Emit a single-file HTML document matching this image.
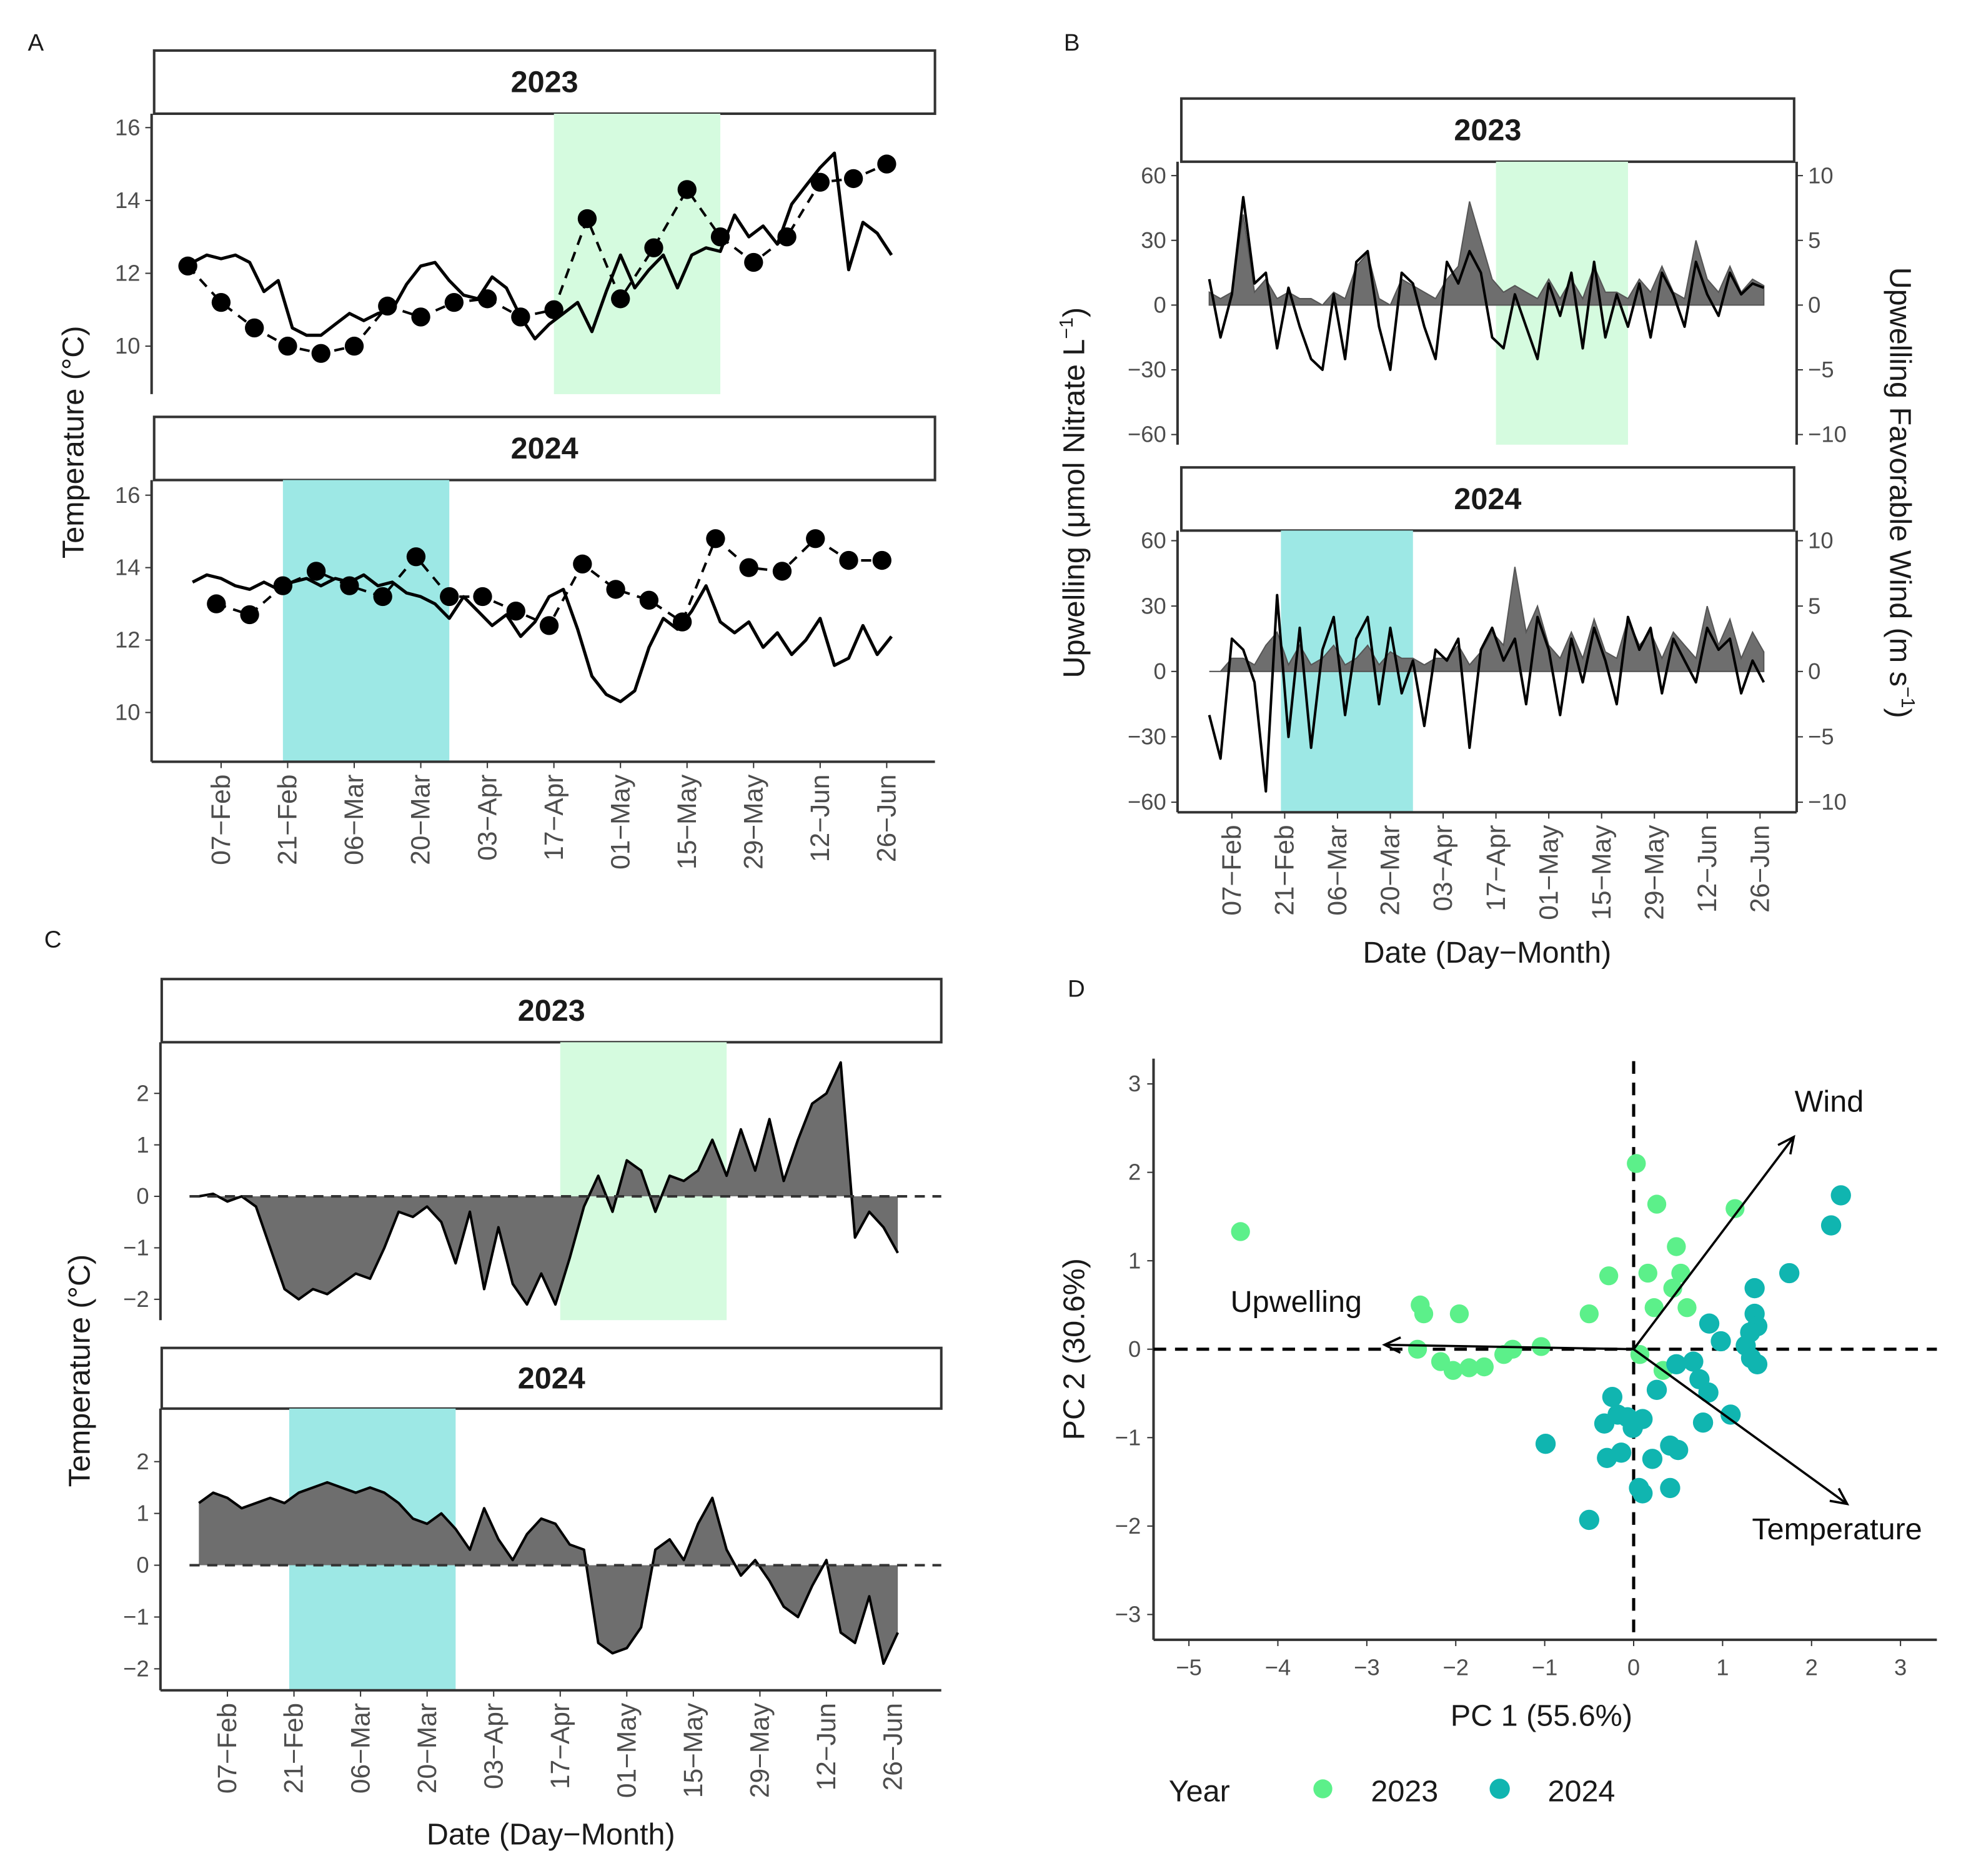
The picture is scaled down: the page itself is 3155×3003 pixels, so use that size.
<!DOCTYPE html>
<html><head><meta charset="utf-8">
<style>
html,body{margin:0;padding:0;background:#fff;}
svg{display:block;font-family:"Liberation Sans",Arial,sans-serif;}
</style></head>
<body>
<svg id="fig" xmlns="http://www.w3.org/2000/svg" width="3155" height="3003" viewBox="0 0 1560 1485" preserveAspectRatio="none"></svg>
<script>
// ---------- Data ----------
const dateTickLabels = ["07\u2212Feb","21\u2212Feb","06\u2212Mar","20\u2212Mar","03\u2212Apr","17\u2212Apr","01\u2212May","15\u2212May","29\u2212May","12\u2212Jun","26\u2212Jun"];
const dateTickDays = [0,14,28,42,56,70,84,98,112,126,140];
const seriesStartDay = -6; // Feb 1
const seriesStepDays = 3;
const tempLine2023 = [12.3,12.5,12.4,12.5,12.3,11.5,11.8,10.5,10.3,10.3,10.6,10.9,10.7,10.9,11.0,11.7,12.2,12.3,11.8,11.4,11.3,11.9,11.6,10.8,10.2,10.6,10.9,11.2,10.4,11.5,12.5,11.6,12.1,12.5,11.6,12.5,12.7,12.6,13.6,13.0,13.3,12.8,13.9,14.4,14.9,15.3,12.1,13.4,13.1,12.5];
const tempLine2024 = [13.6,13.8,13.7,13.5,13.4,13.6,13.4,13.6,13.7,13.5,13.7,13.6,13.8,13.5,13.6,13.3,13.2,13.0,12.6,13.2,12.8,12.4,12.7,12.1,12.5,13.2,13.4,12.3,11.0,10.5,10.3,10.6,11.8,12.6,12.3,12.8,13.5,12.5,12.2,12.5,11.8,12.2,11.6,12.0,12.6,11.3,11.5,12.4,11.6,12.1];
const dotStart2023 = -7, dotStart2024 = -1, dotStep = 7;
const tempDots2023 = [12.2,11.2,10.5,10.0,9.8,10.0,11.1,10.8,11.2,11.3,10.8,11.0,13.5,11.3,12.7,14.3,13.0,12.3,13.0,14.5,14.6,15.0];
const tempDots2024 = [13.0,12.7,13.5,13.9,13.5,13.2,14.3,13.2,13.2,12.8,12.4,14.1,13.4,13.1,12.5,14.8,14.0,13.9,14.8,14.2,14.2];
const upwell2023 = [12,-15,5,50,10,15,-20,8,-10,-25,-30,5,-25,20,25,-10,-30,15,10,-10,-25,20,10,25,15,-15,-20,5,-10,-25,10,-5,15,-20,20,-15,5,-10,10,-15,15,5,-10,20,5,-5,15,5,10,8];
const wind2023 = [1,0.5,1,7,1,2,0.5,1,0.5,0.5,0,1,0.5,3,4,0.5,0,2,1.5,1,0.5,2,3,8,5,2,1,1.5,1,0.5,2,0.5,2,0.5,3,1,1,0.5,2,1,3,1,0.5,5,2,1,3,1,2,1.5];
const upwell2024 = [-20,-40,15,10,-5,-55,35,-30,20,-35,10,25,-20,15,25,-15,20,-10,5,-25,10,5,15,-35,10,20,5,15,-15,25,10,-20,15,-5,20,5,-15,25,10,20,-10,15,5,-5,20,10,15,-10,5,-5];
const wind2024 = [0,0,1,1,0.5,2,3,0.5,2,0.5,1,2,0.5,1,2,0.5,1.5,1,1,0.5,1,1,2,0.5,1.5,3,2,8,3,5,2,1,3,1,4,1.5,1,4,2,3,1,3,2,1,5,2,4,1,3,1.5];
const anom2023 = [0,0.05,-0.1,0,-0.2,-1.0,-1.8,-2.0,-1.8,-1.9,-1.7,-1.5,-1.6,-1.0,-0.3,-0.4,-0.2,-0.5,-1.3,-0.3,-1.8,-0.6,-1.7,-2.1,-1.5,-2.1,-1.2,-0.2,0.4,-0.3,0.7,0.5,-0.3,0.4,0.3,0.5,1.1,0.4,1.3,0.5,1.5,0.3,1.1,1.8,2.0,2.6,-0.8,-0.3,-0.6,-1.1];
const anom2024 = [1.2,1.4,1.3,1.1,1.2,1.3,1.2,1.4,1.5,1.6,1.5,1.4,1.5,1.4,1.2,0.9,0.8,1.0,0.7,0.3,1.1,0.5,0.1,0.6,0.9,0.8,0.4,0.3,-1.5,-1.7,-1.6,-1.2,0.3,0.5,0.1,0.8,1.3,0.3,-0.2,0.1,-0.3,-0.8,-1.0,-0.4,0.1,-1.3,-1.5,-0.6,-1.9,-1.3];
const shade2023 = [70,105];
const shade2024 = [13,48];
const pc1_2023 = [-4.42,-2.40,-2.36,-1.96,-2.43,-2.17,-2.03,-1.85,-1.68,-1.46,-1.36,-1.04,-0.50,-0.28,0.03,0.26,0.16,0.48,0.53,0.44,0.23,0.60,1.14,0.07,0.33];
const pc2_2023 = [1.33,0.50,0.40,0.40,0.00,-0.14,-0.24,-0.21,-0.20,-0.06,0.00,0.03,0.40,0.83,2.10,1.64,0.86,1.16,0.86,0.69,0.47,0.47,1.59,-0.06,-0.24];
const pc1_2024 = [2.33,2.22,1.75,1.36,1.36,1.39,1.31,1.26,1.32,1.39,0.85,0.98,0.67,0.48,0.74,0.84,1.09,0.78,0.26,-0.24,-0.18,-0.07,-0.01,-0.33,0.10,-0.14,0.21,0.41,0.50,0.41,0.10,0.06,-0.30,-0.99,-0.50];
const pc2_2024 = [1.74,1.40,0.86,0.69,0.40,0.26,0.19,0.04,-0.10,-0.17,0.29,0.09,-0.14,-0.17,-0.34,-0.49,-0.74,-0.83,-0.46,-0.54,-0.74,-0.77,-0.89,-0.84,-0.79,-1.17,-1.24,-1.09,-1.14,-1.57,-1.63,-1.57,-1.23,-1.07,-1.93];
const loadingNames = ["Wind","Upwelling","Temperature"];
const loadingPC1 = [1.8,-2.8,2.4];
const loadingPC2 = [2.4,0.05,-1.75];
const pcTicks = [-5,-4,-3,-2,-1,0,1,2,3];
const pcYTicks = [-3,-2,-1,0,1,2,3];

// ---------- helpers ----------
const NS = "http://www.w3.org/2000/svg";
const svg = document.getElementById('fig');
function mk(tag, attrs, parent, text){
  const e = document.createElementNS(NS, tag);
  for (const k in attrs) e.setAttribute(k, attrs[k]);
  if (text !== undefined) e.textContent = text;
  (parent || svg).appendChild(e);
  return e;
}
const TICKC = "#4d4d4d";

function strip(x1,x2,y1,y2,label,name){
  const g = mk('g',{});
  
  
  mk('rect',{x:x1,y:y1,width:x2-x1,height:y2-y1,fill:'#fff',stroke:'#333','stroke-width':2},g);
  const t = mk('text',{x:(x1+x2)/2,y:(y1+y2)/2+8,'text-anchor':'middle','font-size':24,'font-weight':'bold',fill:'#1a1a1a'},g,label);
  
  
}
function yTicks(x, vals, ymap, labels, name, side){
  const g = mk('g',{});
  
  
  vals.forEach((v,i)=>{
    const y = ymap(v);
    if (side==='right'){
      mk('line',{x1:x,x2:x+5,y1:y,y2:y,stroke:'#333','stroke-width':1},g);
      mk('text',{x:x+9,y:y+6,'text-anchor':'start','font-size':18,fill:TICKC},g,labels[i]);
    } else {
      mk('line',{x1:x-5,x2:x,y1:y,y2:y,stroke:'#333','stroke-width':1},g);
      mk('text',{x:x-9,y:y+6,'text-anchor':'end','font-size':18,fill:TICKC},g,labels[i]);
    }
  });
}
function dateAxis(xmap, y, name){
  const g = mk('g',{});
  
  
  dateTickDays.forEach((d,i)=>{
    const x = xmap(d);
    mk('line',{x1:x,x2:x,y1:y,y2:y+5,stroke:'#333','stroke-width':1},g);
    mk('text',{x:0,y:0,transform:`translate(${x+7},${y+10}) rotate(-90)`,'text-anchor':'end','font-size':21,fill:TICKC},g,dateTickLabels[i]);
  });
}
function linePath(vals, xmap, ymap, startDay, step){
  return vals.map((v,i)=>(i?'L':'M')+xmap(startDay+i*step).toFixed(1)+','+ymap(v).toFixed(1)).join(' ');
}
function areaPath(vals, xmap, ymap, startDay, step){
  let d = 'M'+xmap(startDay).toFixed(1)+','+ymap(0).toFixed(1);
  vals.forEach((v,i)=>{ d += ' L'+xmap(startDay+i*step).toFixed(1)+','+ymap(v).toFixed(1); });
  d += ' L'+xmap(startDay+(vals.length-1)*step).toFixed(1)+','+ymap(0).toFixed(1)+' Z';
  return d;
}
function label(txt,x,y,name,size,extra){
  const t = mk('text',Object.assign({x:x,y:y,'font-size':size||24,fill:'#1a1a1a'},extra||{}),svg,txt);
  
  
  return t;
}

// ---------- Panel A ----------
label('A',22,40,'panel-a-letter',19);
const ax = d => 175 + d*3.763;
const ay23 = v => 274 - (v-10)*28.83;
const ay24 = v => 564 - (v-10)*28.67;
function panelA(top,bottom,ymap,shade,shadeColor,line,dots,dotStart,year,isBottom){
  const g = mk('g',{});
  
  
  const r = mk('rect',{x:ax(shade[0]),y:top,width:ax(shade[1])-ax(shade[0]),height:bottom-top,fill:shadeColor},g);
  
  
  const dp = mk('path',{d:linePath(dots,ax,ymap,dotStart,dotStep),fill:'none',stroke:'#000','stroke-width':2,'stroke-dasharray':'8,6'},g);
  
  
  const lp = mk('path',{d:linePath(line,ax,ymap,seriesStartDay,seriesStepDays),fill:'none',stroke:'#000','stroke-width':2.5,'stroke-linejoin':'round'},g);
  
  
  dots.forEach((v,i)=>{
    const c = mk('circle',{cx:ax(dotStart+i*dotStep),cy:ymap(v),r:7.5,fill:'#000'},g);
    
    
  });
  mk('line',{x1:120,x2:120,y1:top,y2:bottom,stroke:'#333','stroke-width':2},g);
  if (isBottom) mk('line',{x1:120,x2:740,y1:bottom,y2:bottom,stroke:'#333','stroke-width':2},g);
  yTicks(120,[10,12,14,16],ymap,['10','12','14','16'],'panel-a-y-ticks-'+year);
}
strip(122,740,40,90,'2023','panel-a-strip-2023');
panelA(90,312,ay23,shade2023,'#d5fbdf',tempLine2023,tempDots2023,dotStart2023,'2023',false);
strip(122,740,330,380,'2024','panel-a-strip-2024');
panelA(380,603,ay24,shade2024,'#9de8e5',tempLine2024,tempDots2024,dotStart2024,'2024',true);
dateAxis(ax,603,'panel-a-x-ticks');
label('Temperature (°C)',0,0,'panel-a-y-title',24,{transform:'translate(66,350) rotate(-90)','text-anchor':'middle'});

// ---------- Panel B ----------
label('B',842,40,'panel-b-letter',19);
const bx = d => 975 + d*2.986;
const by23 = v => 241.5 - v*1.708;
const by24 = v => 531.5 - v*1.725;
function panelB(top,bottom,ymap,shade,shadeColor,up,wind,year,isBottom){
  const g = mk('g',{});
  
  
  const r = mk('rect',{x:bx(shade[0]),y:top,width:bx(shade[1])-bx(shade[0]),height:bottom-top,fill:shadeColor},g);
  
  
  const wy = v => ymap(v*6);
  const a = mk('path',{d:areaPath(wind,bx,wy,seriesStartDay,seriesStepDays),fill:'#6e6e6e',stroke:'#555','stroke-width':1},g);
  
  
  const l = mk('path',{d:linePath(up,bx,ymap,seriesStartDay,seriesStepDays),fill:'none',stroke:'#000','stroke-width':2,'stroke-linejoin':'round'},g);
  
  
  mk('line',{x1:932,x2:932,y1:top,y2:bottom,stroke:'#333','stroke-width':2},g);
  mk('line',{x1:1422,x2:1422,y1:top,y2:bottom,stroke:'#333','stroke-width':2},g);
  if (isBottom) mk('line',{x1:932,x2:1422,y1:bottom,y2:bottom,stroke:'#333','stroke-width':2},g);
  yTicks(932,[-60,-30,0,30,60],ymap,['\u221260','\u221230','0','30','60'],'panel-b-left-ticks-'+year);
  yTicks(1422,[-60,-30,0,30,60],ymap,['\u221210','\u22125','0','5','10'],'panel-b-right-ticks-'+year,'right');
}
strip(935,1420,78,128,'2023','panel-b-strip-2023');
panelB(128,352,by23,shade2023,'#d5fbdf',upwell2023,wind2023,'2023',false);
strip(935,1420,370,420,'2024','panel-b-strip-2024');
panelB(420,643,by24,shade2024,'#9de8e5',upwell2024,wind2024,'2024',true);
dateAxis(bx,643,'panel-b-x-ticks');
(function(){
  const t = label('',0,0,'panel-b-left-y-title',24,{transform:'translate(858,390) rotate(-90)','text-anchor':'middle'});
  t.textContent = 'Upwelling (\u03bcmol Nitrate L';
  mk('tspan',{dy:-9,'font-size':15},t,'\u22121'); mk('tspan',{dy:9},t,')');
  const t2 = label('',0,0,'panel-b-right-y-title',24,{transform:'translate(1496,390) rotate(90)','text-anchor':'middle'});
  t2.textContent = 'Upwelling Favorable Wind (m s';
  mk('tspan',{dy:-9,'font-size':15},t2,'\u22121'); mk('tspan',{dy:9},t2,')');
})();
label('Date (Day\u2212Month)',1177,762,'panel-b-x-title',24,{'text-anchor':'middle'});

// ---------- Panel C ----------
label('C',35,750,'panel-c-letter',19);
const cx = d => 180 + d*3.763;
const cy23 = v => 947 - v*40.75;
const cy24 = v => 1239 - v*41;
function panelC(top,bottom,ymap,shade,shadeColor,an,year,isBottom){
  const g = mk('g',{});
  
  
  const r = mk('rect',{x:cx(shade[0]),y:top,width:cx(shade[1])-cx(shade[0]),height:bottom-top,fill:shadeColor},g);
  
  
  const a = mk('path',{d:areaPath(an,cx,ymap,seriesStartDay,seriesStepDays),fill:'#6e6e6e',stroke:'none'},g);
  
  
  const l = mk('path',{d:linePath(an,cx,ymap,seriesStartDay,seriesStepDays),fill:'none',stroke:'#000','stroke-width':2,'stroke-linejoin':'round'},g);
  
  
  const z = mk('line',{x1:150,x2:745,y1:ymap(0),y2:ymap(0),stroke:'#333','stroke-width':2,'stroke-dasharray':'8,6'},g);
  
  
  mk('line',{x1:127,x2:127,y1:top,y2:bottom,stroke:'#333','stroke-width':2},g);
  if (isBottom) mk('line',{x1:127,x2:745,y1:bottom,y2:bottom,stroke:'#333','stroke-width':2},g);
  yTicks(127,[-2,-1,0,1,2],ymap,['\u22122','\u22121','0','1','2'],'panel-c-y-ticks-'+year);
}
strip(128,745,775,825,'2023','panel-c-strip-2023');
panelC(825,1045,cy23,shade2023,'#d5fbdf',anom2023,'2023',false);
strip(128,745,1067,1115,'2024','panel-c-strip-2024');
panelC(1115,1338,cy24,shade2024,'#9de8e5',anom2024,'2024',true);
dateAxis(cx,1338,'panel-c-x-ticks');
label('Temperature (°C)',0,0,'panel-c-y-title',24,{transform:'translate(71,1085) rotate(-90)','text-anchor':'middle'});
label('Date (Day\u2212Month)',436,1460,'panel-c-x-title',24,{'text-anchor':'middle'});

// ---------- Panel D ----------
label('D',845,789,'panel-d-letter',19);
const dx = v => 1293 + v*70.4;
const dy = v => 1068 - v*70;
(function(){
  const g = mk('g',{});
  
  
  mk('line',{x1:913,x2:913,y1:838,y2:1298,stroke:'#333','stroke-width':2},g);
  mk('line',{x1:913,x2:1533,y1:1298,y2:1298,stroke:'#333','stroke-width':2},g);
  const h = mk('line',{x1:913,x2:1533,y1:dy(0),y2:dy(0),stroke:'#000','stroke-width':2.5,'stroke-dasharray':'10,7'},g);
  
  
  const v = mk('line',{x1:dx(0),x2:dx(0),y1:840,y2:1298,stroke:'#000','stroke-width':2.5,'stroke-dasharray':'10,7'},g);
  
  
  pcTicks.forEach(t=>{
    mk('line',{x1:dx(t),x2:dx(t),y1:1298,y2:1303,stroke:'#333'},g);
    mk('text',{x:dx(t),y:1326,'text-anchor':'middle','font-size':18,fill:TICKC},g,t<0?'\u2212'+(-t):String(t));
  });
  pcYTicks.forEach(t=>{
    mk('line',{x1:908,x2:913,y1:dy(t),y2:dy(t),stroke:'#333'},g);
    mk('text',{x:903,y:dy(t)+6,'text-anchor':'end','font-size':18,fill:TICKC},g,t<0?'\u2212'+(-t):String(t));
  });
  pc1_2023.forEach((p,i)=>{
    const c = mk('circle',{cx:dx(p),cy:dy(pc2_2023[i]),r:7.5,fill:'#5cf08a'},g);
    
    
  });
  pc1_2024.forEach((p,i)=>{
    const c = mk('circle',{cx:dx(p),cy:dy(pc2_2024[i]),r:8,fill:'#10b5b0'},g);
    
    
  });
  const lblOff = [[28,-20,'middle'],[-70,-26,'middle'],[-8,28,'middle']];
  loadingNames.forEach((n,i)=>{
    const x2 = dx(loadingPC1[i]), y2 = dy(loadingPC2[i]);
    const ln = mk('line',{x1:dx(0),y1:dy(0),x2:x2,y2:y2,stroke:'#000','stroke-width':1.8},g);
    
    
    const ang = Math.atan2(y2-dy(0), x2-dx(0));
    const L = 14, w = 0.45;
    mk('polyline',{points:`${x2-L*Math.cos(ang-w)},${y2-L*Math.sin(ang-w)} ${x2},${y2} ${x2-L*Math.cos(ang+w)},${y2-L*Math.sin(ang+w)}`,fill:'none',stroke:'#000','stroke-width':1.8},g);
    const t = mk('text',{x:x2+lblOff[i][0],y:y2+lblOff[i][1],'text-anchor':lblOff[i][2],'font-size':24,fill:'#111'},g,n);
    
    
  });
})();
label('PC 1 (55.6%)',1220,1366,'panel-d-x-title',24,{'text-anchor':'middle'});
label('PC 2 (30.6%)',0,0,'panel-d-y-title',24,{transform:'translate(858,1068) rotate(-90)','text-anchor':'middle'});
(function(){
  const g = mk('g',{});
  
  
  mk('text',{x:925,y:1426,'font-size':24,fill:'#1a1a1a'},g,'Year');
  const e1 = mk('g',{},g);
  
  
  mk('circle',{cx:1047,cy:1416,r:7.5,fill:'#5cf08a'},e1);
  mk('text',{x:1085,y:1426,'font-size':24,fill:'#1a1a1a'},e1,'2023');
  const e2 = mk('g',{},g);
  
  
  mk('circle',{cx:1187,cy:1416,r:8,fill:'#10b5b0'},e2);
  mk('text',{x:1225,y:1426,'font-size':24,fill:'#1a1a1a'},e2,'2024');
})();
</script>
</body></html>
